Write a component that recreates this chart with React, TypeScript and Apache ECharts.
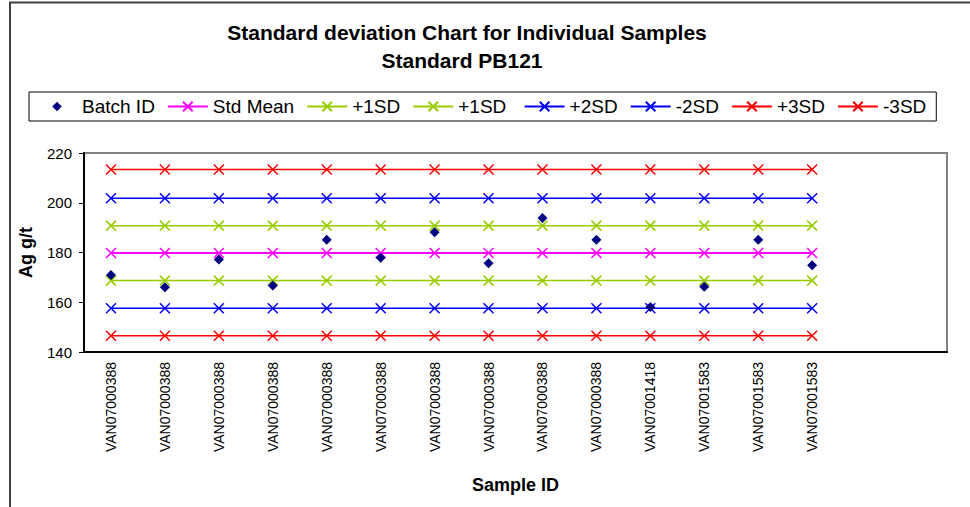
import React, { useEffect, useRef } from "react";
import * as echarts from "echarts";

const categories = [
  "VAN07000388", "VAN07000388", "VAN07000388", "VAN07000388", "VAN07000388",
  "VAN07000388", "VAN07000388", "VAN07000388", "VAN07000388", "VAN07000388",
  "VAN07001418", "VAN07001583", "VAN07001583", "VAN07001583", "", "",
];
const batchValues = [171.0, 166.0, 177.2, 166.7, 185.1, 177.9, 188.1, 175.7, 193.9, 185.1, 158.1, 166.2, 185.1, 174.9];
const stdMean = [179.8, 179.8, 179.8, 179.8, 179.8, 179.8, 179.8, 179.8, 179.8, 179.8, 179.8, 179.8, 179.8, 179.8];
const plus1SD = [190.8, 190.8, 190.8, 190.8, 190.8, 190.8, 190.8, 190.8, 190.8, 190.8, 190.8, 190.8, 190.8, 190.8];
const minus1SD = [168.7, 168.7, 168.7, 168.7, 168.7, 168.7, 168.7, 168.7, 168.7, 168.7, 168.7, 168.7, 168.7, 168.7];
const plus2SD = [201.8, 201.8, 201.8, 201.8, 201.8, 201.8, 201.8, 201.8, 201.8, 201.8, 201.8, 201.8, 201.8, 201.8];
const minus2SD = [157.6, 157.6, 157.6, 157.6, 157.6, 157.6, 157.6, 157.6, 157.6, 157.6, 157.6, 157.6, 157.6, 157.6];
const plus3SD = [213.4, 213.4, 213.4, 213.4, 213.4, 213.4, 213.4, 213.4, 213.4, 213.4, 213.4, 213.4, 213.4, 213.4];
const minus3SD = [146.5, 146.5, 146.5, 146.5, 146.5, 146.5, 146.5, 146.5, 146.5, 146.5, 146.5, 146.5, 146.5, 146.5];

const FONT = "'Liberation Sans', Arial, sans-serif";
const CROSS = "path://M0,0L10,10M10,0L0,10";

function lineSeries(name: string, data: number[], color: string, width = 1.5) {
  return {
    name,
    type: "line",
    data,
    symbol: CROSS,
    symbolSize: 10,
    showSymbol: true,
    lineStyle: { color, width },
    itemStyle: { color, borderColor: color, borderWidth: 1.5 },
    z: 2,
  };
}

export default function App() {
  const ref = useRef<HTMLDivElement>(null);
  useEffect(() => {
    if (!ref.current) return;
    const chart = echarts.init(ref.current, undefined, { renderer: "svg" });
    chart.setOption({
      animation: false,
      backgroundColor: "#ffffff",
      textStyle: { fontFamily: FONT },
      graphic: [
        {
          type: "rect",
          shape: { x: 10, y: 2.5, width: 1200, height: 800 },
          style: { fill: "none", stroke: "#404040", lineWidth: 2 },
          silent: true,
        },
        {
          type: "text",
          x: 467,
          y: 32,
          style: {
            text: "Standard deviation Chart for Individual Samples",
            font: `bold 21px ${FONT}`,
            fill: "#000",
            align: "center",
            verticalAlign: "middle",
          },
        },
        {
          type: "text",
          x: 462,
          y: 60,
          style: {
            text: "Standard PB121",
            font: `bold 21px ${FONT}`,
            fill: "#000",
            align: "center",
            verticalAlign: "middle",
          },
        },
      ],
      legend: {
        left: 29,
        top: 92,
        orient: "horizontal",
        padding: [5, 10, 5, 8],
        itemGap: 12,
        itemWidth: 40,
        itemHeight: 12,
        borderColor: "#000",
        borderWidth: 1,
        textStyle: { fontSize: 19, color: "#000", fontFamily: FONT },
        data: ["Batch ID", "Std Mean", "+1SD", "+1SD ", "+2SD", "-2SD", "+3SD", "-3SD"],
      },
      grid: {
        left: 84,
        right: 23,
        top: 153,
        bottom: 155,
        show: true,
        borderColor: "#808080",
        borderWidth: 2,
        backgroundColor: "#fff",
        containLabel: false,
      },
      xAxis: {
        type: "category",
        data: categories,
        boundaryGap: true,
        name: "Sample ID",
        nameLocation: "middle",
        nameGap: 124,
        nameTextStyle: { fontSize: 18, fontWeight: "bold", color: "#000", fontFamily: FONT },
        axisLine: { lineStyle: { color: "#000", width: 2 } },
        axisTick: { show: false },
        axisLabel: { rotate: 90, fontSize: 14, color: "#000", margin: 10, interval: 0, fontFamily: FONT },
        splitLine: { show: false },
      },
      yAxis: {
        type: "value",
        min: 140,
        max: 220,
        interval: 20,
        name: "Ag g/t",
        nameLocation: "middle",
        nameGap: 49,
        nameTextStyle: { fontSize: 18, fontWeight: "bold", color: "#000", fontFamily: FONT },
        axisLine: { show: true, lineStyle: { color: "#000", width: 2 } },
        axisTick: { show: true, length: 5, lineStyle: { color: "#000", width: 1 } },
        axisLabel: { fontSize: 15, color: "#000", margin: 12, fontFamily: FONT },
        splitLine: { show: false },
      },
      series: [
        {
          name: "Batch ID",
          type: "line",
          data: batchValues,
          symbol: "diamond",
          symbolSize: 10,
          showSymbol: true,
          lineStyle: { width: 0, opacity: 0 },
          itemStyle: { color: "#000080", opacity: 1 },
          z: 5,
        },
        lineSeries("Std Mean", stdMean, "#FF00FF", 2),
        lineSeries("+1SD", plus1SD, "#99CC00"),
        lineSeries("+1SD ", minus1SD, "#99CC00"),
        lineSeries("+2SD", plus2SD, "#0000FF"),
        lineSeries("-2SD", minus2SD, "#0000FF"),
        lineSeries("+3SD", plus3SD, "#FF0000"),
        lineSeries("-3SD", minus3SD, "#FF0000"),
      ],
    });
    return () => chart.dispose();
  }, []);
  return (
    <div
      ref={ref}
      style={{ position: "fixed", left: 0, top: 0, width: 970, height: 507 }}
    />
  );
}
